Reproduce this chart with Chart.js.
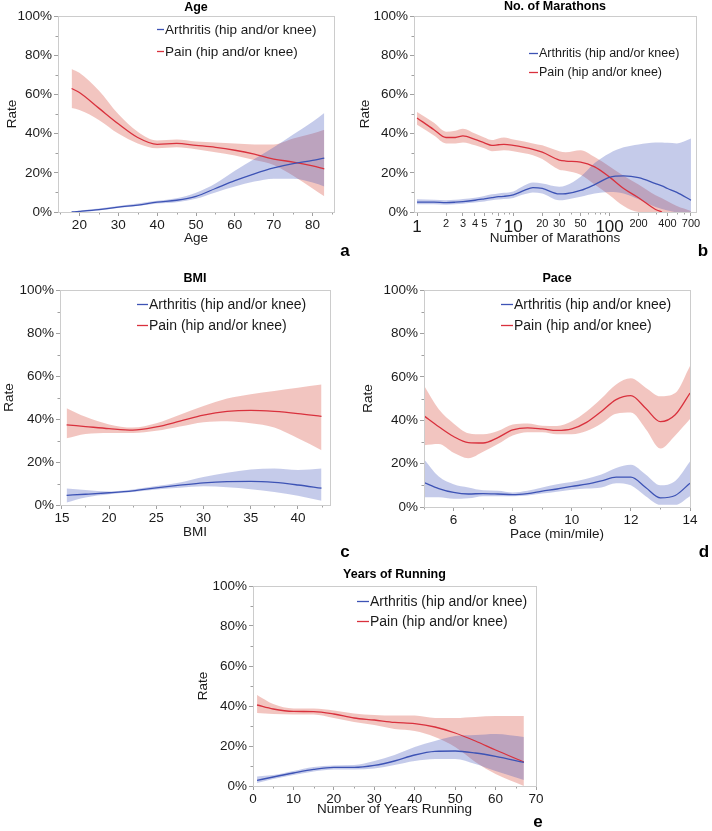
<!DOCTYPE html>
<html>
<head>
<meta charset="utf-8">
<script src="https://cdn.jsdelivr.net/npm/chart.js@4.4.1/dist/chart.umd.min.js"></script>
<style>
  body { margin: 0; background: #fff; width: 712px; height: 831px; position: relative; overflow: hidden; }
  canvas { position: absolute; }
</style>
</head>
<body>
<canvas id="pa"></canvas>
<canvas id="pb"></canvas>
<canvas id="pc"></canvas>
<canvas id="pd"></canvas>
<canvas id="pe"></canvas>
<script>
const seriesNames = ["Arthritis (hip and/or knee)", "Pain (hip and/or knee)"];
const rateTicks = [0, 20, 40, 60, 80, 100];
const rateMinor = [10, 30, 50, 70, 90];

// a - Age
const ageX = [18, 20, 25, 30, 35, 40, 45, 50, 55, 60, 65, 70, 75, 80, 83];
const agePain = [63, 61, 53, 45, 38, 34.5, 35, 34, 33, 31.5, 29.5, 27, 25.5, 23.5, 22];
const agePainHi = [73, 71, 62, 50, 41, 36.5, 37, 36, 35.5, 35, 34.5, 34.5, 37.5, 40, 42];
const agePainLo = [53, 52, 47, 40, 35, 32.5, 33, 32, 30.5, 28.8, 26.5, 24, 18.5, 12, 8];
const ageArth = [0, 0.3, 1.2, 2.5, 3.5, 5, 6, 8, 12, 16, 19.5, 22.5, 24.7, 26.3, 27.5];
const ageArthHi = [0.3, 0.7, 1.8, 3, 4.3, 5.7, 7, 9.8, 14.5, 21, 27, 33, 39.5, 46, 50.5];
const ageArthLo = [0, 0, 0.8, 2, 3, 4.3, 5, 6.8, 10, 13, 15.5, 17, 17, 15, 13];
const ageTicks = [20, 30, 40, 50, 60, 70, 80];
const ageMinor = [15, 25, 35, 45, 55, 65, 75, 85];

// b - No. of Marathons (log axis)
const marX = [1, 1.5, 2, 2.5, 3, 4, 5, 6, 7, 8, 10, 13, 16, 20, 30, 35, 50, 70, 100, 140, 200, 300, 350, 400, 500, 700];
const marPain = [48, 42, 38, 38, 38.8, 37, 35.3, 34, 34.3, 34.5, 34, 33, 32, 30.5, 26.5, 26, 25.5, 23, 17.8, 12, 7.3, 1.3, 0, null, null, null];
const marPainHi = [51, 45.5, 41, 41.5, 42.5, 40, 38, 36.7, 37.5, 38, 37, 36, 35, 34, 31, 30.5, 31.5, 28, 23.2, 18.5, 14, 8.5, 7, 5.5, 3, 0.5];
const marPainLo = [44.5, 39, 35, 35, 35.5, 34, 32.5, 31, 31.3, 31.5, 31, 30, 29, 27, 21.5, 21, 19, 14, 8.5, 3, 0, 0, 0, 0, 0, 0];
const marArth = [5, 5, 4.8, 5, 5.3, 6, 6.7, 7.3, 7.8, 8, 8.8, 11, 12.4, 12, 9.2, 9.3, 11, 14, 17.7, 18.4, 17.5, 14.5, 13.3, 12, 10, 6];
const marArthHi = [6.5, 6.3, 6, 6.2, 6.6, 7.3, 8.2, 9, 9.5, 9.8, 10.5, 13.5, 15, 14.5, 12.9, 13.5, 18, 25, 30, 33, 34.5, 35.5, 35.5, 35.3, 35, 37.5];
const marArthLo = [4, 3.9, 3.7, 3.9, 4.2, 4.8, 5.4, 6, 6.4, 6.6, 7.2, 9, 10, 9.5, 6, 6.3, 7.8, 9.5, 10.2, 9.5, 6.5, 2.5, 1.5, 0.8, 0, 0];
const marTicks = [1, 2, 3, 4, 5, 7, 10, 20, 30, 50, 100, 200, 400, 700];
const marBig = [1, 10, 100];
const marMinor = [6, 8, 9, 40, 60, 70, 80, 90, 300, 500, 600];

// c - BMI
const bmiX = [15.5, 17.5, 20, 22.5, 25, 27.5, 30, 32.5, 35, 37.5, 40, 42.5];
const bmiPain = [37.3, 36.5, 35.5, 34.8, 36.3, 39, 41.8, 43.5, 44, 43.5, 42.5, 41.2];
const bmiPainHi = [45, 41, 37.5, 36, 38, 42, 46, 49.5, 51.5, 53, 54.5, 56];
const bmiPainLo = [31, 33, 33.5, 33.5, 34.5, 36.5, 38.5, 39, 38, 36, 31, 25.5];
const bmiArth = [4.5, 5, 5.7, 6.6, 8, 9.2, 10.3, 10.9, 11, 10.5, 9.3, 7.8];
const bmiArthHi = [7.7, 7, 6.3, 7.2, 8.8, 10.5, 13, 15, 16.5, 17, 16.3, 17];
const bmiArthLo = [1.2, 3.5, 5, 6, 7.2, 8, 8.7, 8.2, 7.3, 6, 4.3, 2];
const bmiTicks = [15, 20, 25, 30, 35, 40];
const bmiMinor = [17.5, 22.5, 27.5, 32.5, 37.5, 42.5];

// d - Pace
const paceX = [5, 5.5, 6, 6.5, 7, 7.5, 8, 8.5, 9, 9.5, 10, 10.5, 11, 11.5, 12, 12.5, 13, 13.5, 14];
const pacePain = [42, 37, 32.5, 29.7, 29.5, 32, 35.5, 36.5, 36, 35.3, 36, 39, 44, 49.5, 51.3, 45.5, 39.3, 42.5, 52.5];
const pacePainHi = [56, 45, 38.5, 34, 33.5, 35, 38, 38.5, 37.5, 37.3, 39.5, 44, 50, 56.5, 59.3, 55, 51, 52.5, 65];
const pacePainLo = [28.5, 29, 25, 22.5, 25.5, 29, 33, 34.5, 34.5, 33.5, 33.5, 35, 38.5, 43, 43.5, 36, 27, 33, 40.5];
const paceArth = [11.3, 8.5, 6.7, 6, 6.2, 6, 5.7, 6.2, 7.3, 8.3, 9.5, 10.5, 12, 13.8, 13.8, 9, 4.2, 5.3, 11];
const paceArthHi = [22, 14, 10.5, 9, 7.7, 7.5, 6.7, 7.5, 9, 10.5, 11.5, 13, 15, 18, 19.5, 15, 10, 12, 21];
const paceArthLo = [4.5, 4.5, 3.8, 4, 5, 5, 5, 5.3, 6.2, 7, 8, 8.5, 9, 11, 10, 5, 1, 1, 5];
const paceTicks = [6, 8, 10, 12, 14];
const paceMinor = [5, 7, 9, 11, 13];

// e - Years of Running
const yrsX = [1, 5, 10, 15, 20, 25, 30, 35, 40, 45, 50, 55, 60, 67];
const yrsPain = [40.5, 38.5, 37.3, 37.2, 36, 34, 33, 31.8, 31.2, 29.5, 26.5, 22.5, 18, 12];
const yrsPainHi = [45.5, 41, 38.8, 38.8, 37.8, 36.3, 35.5, 35.2, 35.2, 34, 34, 34.5, 35, 35];
const yrsPainLo = [36.5, 36, 35.8, 35.8, 34, 32, 30.5, 28.5, 27.5, 24.5, 19.5, 12, 6, 0];
const yrsArth = [2.8, 4.5, 6.5, 8.3, 9.3, 9.3, 10.3, 12.5, 15.5, 17.3, 17.5, 16.5, 14.8, 11.8];
const yrsArthHi = [4.8, 5.5, 7.5, 9.5, 10.3, 10.5, 12.5, 15.5, 19.5, 22.5, 25, 25.5, 26, 24.5];
const yrsArthLo = [1.5, 3.5, 5.5, 7.3, 8.3, 8.3, 8.8, 10.5, 12.5, 13.5, 13.5, 11, 7.5, 3];
const yrsTicks = [0, 10, 20, 30, 40, 50, 60, 70];
const yrsMinor = [5, 15, 25, 35, 45, 55, 65];

const FONT = '"Liberation Sans", Arial, Helvetica, sans-serif';
const TEXT = "#1a1a1a";
const BLUE = "#3d53b5";
const RED = "#d9313d";
const BLUE_BAND = "rgba(62,82,185,0.30)";
const RED_BAND = "rgba(212,62,45,0.30)";
const LINE_COLORS = [BLUE, RED];

Chart.defaults.font.family = FONT;
Chart.defaults.color = TEXT;

const pts = (xs, ys) => xs.map((x, i) => ({ x: x, y: ys[i] }));

const band = (xs, lo, hi, color) => [
  { data: pts(xs, hi), borderWidth: 0, borderColor: "transparent", pointRadius: 0, fill: false, order: 2, cubicInterpolationMode: "monotone" },
  { data: pts(xs, lo), borderWidth: 0, borderColor: "transparent", pointRadius: 0, fill: "-1", backgroundColor: color, order: 2, cubicInterpolationMode: "monotone" },
];

const line = (xs, ys, color) => ({
  data: pts(xs, ys), borderColor: color, borderWidth: 1.3, pointRadius: 0, fill: false, order: 0, cubicInterpolationMode: "monotone",
});

// draws box, minor ticks, panel title, letter and legend
const panelPlugin = {
  id: "panel",
  afterDraw(chart, args, o) {
    const ctx = chart.ctx, a = chart.chartArea;
    const xs = chart.scales.x, ys = chart.scales.y;
    ctx.save();
    ctx.strokeStyle = "#a0a0a0";
    ctx.lineWidth = 1;
    ctx.beginPath();
    o.minorY.forEach((v) => {
      const p = Math.round(ys.getPixelForValue(v)) + 0.5;
      ctx.moveTo(a.left, p); ctx.lineTo(a.left - 2.5, p);
    });
    o.minorX.forEach((v) => {
      const p = Math.round(xs.getPixelForValue(v)) + 0.5;
      if (p < a.left - 1 || p > a.right + 1) return;
      ctx.moveTo(p, a.bottom); ctx.lineTo(p, a.bottom + 2.5);
    });
    ctx.stroke();

    ctx.strokeStyle = "#cccccc";
    ctx.strokeRect(Math.round(a.left) + 0.5, Math.round(a.top) + 0.5, Math.round(a.right - a.left), Math.round(a.bottom - a.top));

    ctx.fillStyle = "#000";
    ctx.textAlign = "center";
    ctx.textBaseline = "middle";
    ctx.font = "bold 12.5px " + FONT;
    ctx.fillText(o.title, (a.left + a.right) / 2, o.titleY);
    ctx.font = "bold 17px " + FONT;
    ctx.fillText(o.letter, o.letterX, o.letterY);

    ctx.font = o.legendSize + "px " + FONT;
    ctx.textAlign = "left";
    seriesNames.forEach((name, i) => {
      const y = o.legendY[i];
      ctx.strokeStyle = LINE_COLORS[i];
      ctx.lineWidth = 1.3;
      ctx.beginPath();
      ctx.moveTo(o.legendX, y + 0.5);
      ctx.lineTo(o.legendX + o.legendMark, y + 0.5);
      ctx.stroke();
      ctx.fillStyle = TEXT;
      ctx.fillText(name, o.legendX + o.legendMark + 1, y + 1);
    });
    ctx.restore();
  },
};

function makePanel(p) {
  const el = document.getElementById(p.id);
  const cv = p.canvas, A = p.area;
  el.width = cv.w; el.height = cv.h;
  el.style.left = cv.x + "px"; el.style.top = cv.y + "px";
  const lh = 13.5 * 1.2;
  const xH = p.xTitleY + lh / 2 - A.B;
  const yW = A.L - cv.x;

  const datasets = [
    ...band(p.xs, p.artLo, p.artHi, BLUE_BAND),
    ...band(p.xs, p.painLo, p.painHi, RED_BAND),
    line(p.xs, p.art, BLUE),
    line(p.xs, p.pain, RED),
  ];

  const xScale = Object.assign({
    type: "linear",
    min: p.xMin, max: p.xMax,
    afterBuildTicks: (s) => { s.ticks = p.xTicks.map((v) => ({ value: v })); },
    afterFit: (s) => { s.height = xH; },
    border: { display: false },
    grid: { drawOnChartArea: false, tickLength: 4, color: "#a0a0a0" },
    ticks: { autoSkip: false, maxRotation: 0, padding: 1, color: TEXT, font: { size: 13.5 }, callback: (v) => String(v) },
    title: { display: true, text: p.xTitle, color: TEXT, font: { size: 13.5 }, padding: { top: 0, bottom: 0 } },
  }, p.xExtra || {});

  new Chart(el, {
    type: "line",
    data: { datasets: datasets },
    options: {
      responsive: false,
      animation: false,
      events: [],
      layout: {
        padding: { left: 0, top: A.T - cv.y, right: cv.x + cv.w - A.R, bottom: cv.y + cv.h - A.B - xH },
      },
      scales: {
        x: xScale,
        y: {
          min: 0, max: 100,
          afterBuildTicks: (s) => { s.ticks = rateTicks.map((v) => ({ value: v })); },
          afterFit: (s) => { s.width = yW; },
          border: { display: false },
          grid: { drawOnChartArea: false, tickLength: 4, color: "#a0a0a0" },
          ticks: { padding: 2, color: TEXT, font: { size: 13.5 }, callback: (v) => v + "%" },
          title: { display: true, text: "Rate", color: TEXT, font: { size: 13.5 }, padding: { top: p.rateX - cv.x - lh / 2, bottom: 0 } },
        },
      },
      plugins: {
        legend: { display: false },
        tooltip: { enabled: false },
        panel: {
          title: p.title, titleY: p.titleY - cv.y,
          letter: p.letter, letterX: p.letterX - cv.x, letterY: p.letterY - cv.y,
          legendX: p.legendX - cv.x, legendY: p.legendY.map((y) => y - cv.y),
          legendMark: p.legendMark, legendSize: p.legendSize,
          minorX: p.xMinor, minorY: rateMinor,
        },
      },
    },
    plugins: [panelPlugin],
  });
}

makePanel({
  id: "pa", canvas: { x: 0, y: 0, w: 356, h: 262 }, area: { L: 58, T: 16, R: 334, B: 212 },
  xs: ageX, art: ageArth, artLo: ageArthLo, artHi: ageArthHi, pain: agePain, painLo: agePainLo, painHi: agePainHi,
  xMin: 14.5, xMax: 85.5, xTicks: ageTicks, xMinor: ageMinor, xTitle: "Age", xTitleY: 238, rateX: 12,
  title: "Age", titleY: 8, letter: "a", letterX: 345, letterY: 251,
  legendX: 157, legendY: [29, 51], legendMark: 7, legendSize: 13.5,
});

makePanel({
  id: "pb", canvas: { x: 356, y: 0, w: 356, h: 262 }, area: { L: 414, T: 16, R: 696, B: 212 },
  xs: marX, art: marArth, artLo: marArthLo, artHi: marArthHi, pain: marPain, painLo: marPainLo, painHi: marPainHi,
  xMin: 0.93, xMax: 790, xTicks: marTicks, xMinor: marMinor, xTitle: "Number of Marathons", xTitleY: 238, rateX: 365,
  xExtra: {
    type: "logarithmic",
    ticks: {
      autoSkip: false, maxRotation: 0, padding: 1, color: TEXT,
      font: (c) => ({ size: c.tick && marBig.includes(c.tick.value) ? 17 : 11 }),
      callback: (v) => String(v),
    },
  },
  title: "No. of Marathons", titleY: 7, letter: "b", letterX: 703, letterY: 251,
  legendX: 529, legendY: [53, 72], legendMark: 9, legendSize: 12.5,
});

makePanel({
  id: "pc", canvas: { x: 0, y: 268, w: 356, h: 294 }, area: { L: 60, T: 290, R: 330, B: 505 },
  xs: bmiX, art: bmiArth, artLo: bmiArthLo, artHi: bmiArthHi, pain: bmiPain, painLo: bmiPainLo, painHi: bmiPainHi,
  xMin: 14.8, xMax: 43.4, xTicks: bmiTicks, xMinor: bmiMinor, xTitle: "BMI", xTitleY: 532, rateX: 9,
  title: "BMI", titleY: 279, letter: "c", letterX: 345, letterY: 552,
  legendX: 137, legendY: [304, 325], legendMark: 11, legendSize: 14,
});

makePanel({
  id: "pd", canvas: { x: 356, y: 268, w: 356, h: 294 }, area: { L: 424, T: 290, R: 690, B: 507 },
  xs: paceX, art: paceArth, artLo: paceArthLo, artHi: paceArthHi, pain: pacePain, painLo: pacePainLo, painHi: pacePainHi,
  xMin: 5, xMax: 14, xTicks: paceTicks, xMinor: paceMinor, xTitle: "Pace (min/mile)", xTitleY: 534, rateX: 368,
  title: "Pace", titleY: 279, letter: "d", letterX: 704, letterY: 552,
  legendX: 501, legendY: [304, 325], legendMark: 12, legendSize: 14,
});

makePanel({
  id: "pe", canvas: { x: 180, y: 562, w: 380, h: 269 }, area: { L: 253, T: 586, R: 536, B: 786 },
  xs: yrsX, art: yrsArth, artLo: yrsArthLo, artHi: yrsArthHi, pain: yrsPain, painLo: yrsPainLo, painHi: yrsPainHi,
  xMin: 0, xMax: 70, xTicks: yrsTicks, xMinor: yrsMinor, xTitle: "Number of Years Running", xTitleY: 809, rateX: 203,
  title: "Years of Running", titleY: 575, letter: "e", letterX: 538, letterY: 822,
  legendX: 357, legendY: [601, 621], legendMark: 12, legendSize: 14,
});
</script>
</body>
</html>
